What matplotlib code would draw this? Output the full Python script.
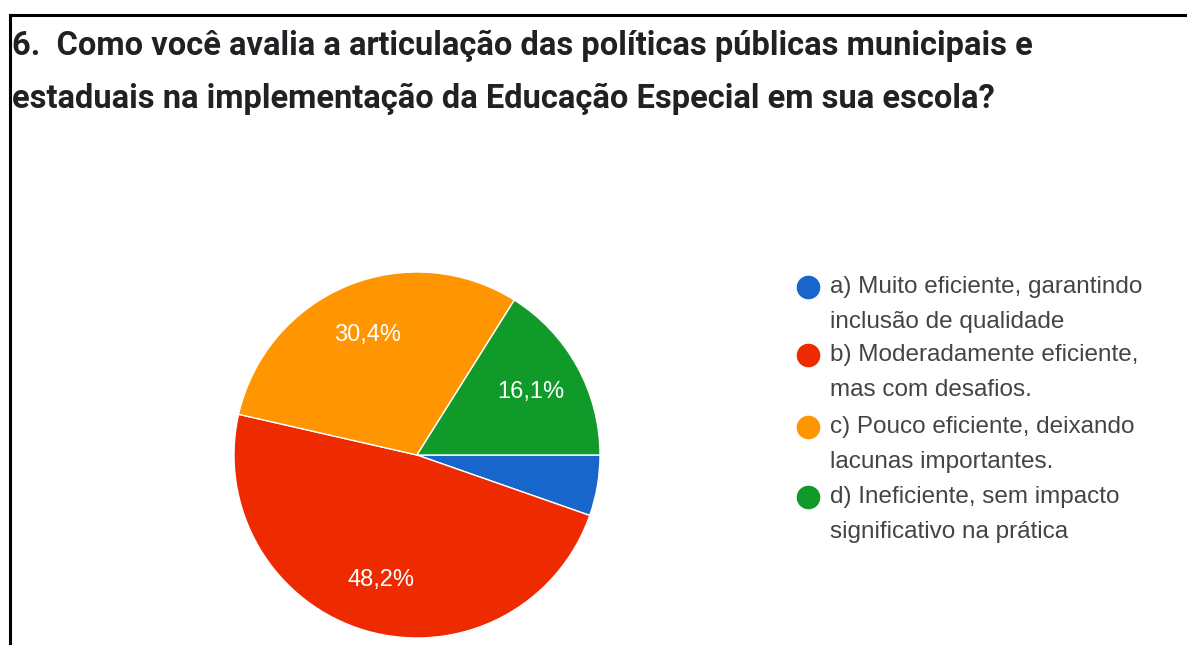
import matplotlib
matplotlib.use("Agg")
import matplotlib.pyplot as plt
from matplotlib.lines import Line2D

title_lines = [
    "6.  Como você avalia a articulação das políticas públicas municipais e",
    "estaduais na implementação da Educação Especial em sua escola?",
]
categories = [
    "a) Muito eficiente, garantindo\ninclusão de qualidade",
    "b) Moderadamente eficiente,\nmas com desafios.",
    "c) Pouco eficiente, deixando\nlacunas importantes.",
    "d) Ineficiente, sem impacto\nsignificativo na prática",
]
counts = [3, 27, 17, 9]
colors = ["#1766cc", "#ee2b00", "#ff9500", "#109a2a"]

W, H = 1187, 645
fig = plt.figure(figsize=(W / 100, H / 100), dpi=100)
fig.patch.set_facecolor("white")
plt.rcParams['font.family'] = ['Liberation Sans', 'DejaVu Sans']

def fx(x):
    return x / W

def fy(y):
    return 1 - y / H

# frame lines (top and left)
fig.add_artist(Line2D([fx(10), 1.0], [fy(15), fy(15)], color="black", lw=2.2))
fig.add_artist(Line2D([fx(10), fx(10)], [fy(15), 0.0], color="black", lw=2.2))

# title
for txt, yb in zip(title_lines, [55, 108]):
    fig.text(fx(12), fy(yb), txt, fontsize=23.5, fontweight="bold",
             color="#202124", ha="left", va="baseline",
             family=["Roboto", "DejaVu Sans"])

# pie
cx, cy, r = 417, 455, 183
ax = fig.add_axes([fx(cx - r), fy(cy + r), 2 * r / W, 2 * r / H])

def fmt(p):
    return ("%.1f%%" % p).replace(".", ",") if p > 10 else ""

wedges, texts, autotexts = ax.pie(
    counts, colors=colors, startangle=0, counterclock=False, radius=1,
    autopct=fmt, pctdistance=0.71,
    wedgeprops=dict(edgecolor="white", linewidth=1),
    textprops=dict(color="white", fontsize=17),
)
ax.set_aspect("auto")
ax.set_xlim(-1, 1)
ax.set_ylim(-1, 1)
ax.axis("off")

# legend
legend_y = [287, 355, 427, 497]
line_gap = 35
for i, (lab, col) in enumerate(zip(categories, colors)):
    y0 = legend_y[i]
    fig.add_artist(Line2D([fx(808)], [fy(y0)], marker="o", markersize=16,
                          color=col, linestyle="none"))
    for j, line in enumerate(lab.split("\n")):
        fig.text(fx(830), fy(y0 + j * line_gap), line, fontsize=17.5,
                 color="#444444", ha="left", va="center")

fig.savefig("out.png", dpi=100)
